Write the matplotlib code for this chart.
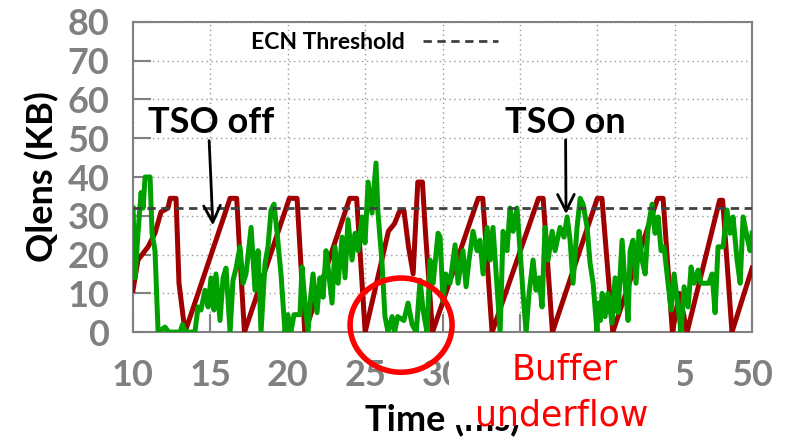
import matplotlib
matplotlib.use("Agg")
import matplotlib.pyplot as plt
from matplotlib.patches import Ellipse, Rectangle
from matplotlib.lines import Line2D

plt.rcParams['font.family'] = ['Lato', 'DejaVu Sans']

# queue length, TSO off (red sawtooth)
t_off = [10.0, 10.32, 10.97, 11.42, 11.81, 12.26, 12.4, 12.78, 12.97, 13.36,
         16.27, 16.7, 16.9, 17.2,
         20.1, 20.6, 21.1,
         24.0, 24.45, 25.0,
         26.1, 26.5, 26.9, 27.2, 27.5, 27.8, 28.1, 28.4, 28.7, 28.9, 29.35,
         32.3, 32.6, 33.2,
         36.2, 36.5, 37.1,
         40.0, 40.3, 41.0,
         43.9, 44.25, 44.85, 45.3, 45.8,
         47.9, 48.1, 48.7, 50.0]
q_off = [10.8, 18.6, 22, 25.5, 31, 32, 34.5, 34.5, 12.6, 0,
         34.5, 34.5, 20, 0,
         34.5, 34.5, 0,
         34.5, 34.5, 0,
         19, 26, 28, 31, 31.5, 22, 15, 38.7, 38.7, 25.5, 0,
         34.5, 34.5, 0,
         34.5, 34.5, 0,
         34.5, 34.5, 0,
         34.5, 34.5, 0, 10, 0,
         34, 34, 0, 16.5]

# queue length, TSO on (green)
t_on = [10.0, 10.13, 10.32, 10.52, 10.65, 10.78, 11.1, 11.23, 11.42, 11.62,
        12.07, 12.3, 13.04, 13.2, 13.4, 14.0, 14.2, 14.39, 14.65, 14.85,
        15.04, 15.23, 15.36, 15.62, 15.82, 16.01, 16.27, 16.46, 16.66, 16.91,
        17.11, 17.3, 17.63, 17.88, 18.08, 18.27, 18.53, 18.72, 18.92, 19.11,
        19.31, 19.56, 19.82, 20.0, 20.2, 20.4, 20.79, 20.92, 21.11, 21.31,
        21.44, 21.63, 21.89, 22.08, 22.28, 22.47, 22.6, 22.86, 23.05, 23.25,
        23.51, 23.7, 23.89, 24.15, 24.35, 24.54, 24.8, 24.99, 25.19, 25.44,
        25.7, 25.83, 26.09, 26.28, 26.48, 26.74, 26.9, 27.1, 27.5, 27.77,
        28.03, 28.3, 28.55, 28.74, 29.0, 29.19, 29.39, 29.71, 29.84, 30.03,
        30.2, 30.48, 30.81, 31.0, 31.32, 31.52, 31.71, 31.97, 32.23, 32.42,
        32.62, 32.88, 33.07, 33.26, 33.72, 33.91, 34.17, 34.36, 34.56, 34.81,
        35.01, 35.2, 35.4, 35.59, 35.85, 36.04, 36.24, 36.43, 36.62, 36.82,
        37.08, 37.27, 37.59, 37.85, 38.05, 38.24, 38.43, 38.69, 38.89, 39.08,
        39.34, 39.53, 39.73, 39.98, 40.05, 40.2, 40.31, 40.5, 40.69, 40.95,
        41.15, 41.34, 41.6, 41.79, 41.99, 42.12, 42.31, 42.5, 42.7, 42.89,
        43.09, 43.28, 43.54, 43.73, 43.93, 44.12, 44.31, 44.57, 44.77, 44.96,
        45.22, 45.41, 45.61, 45.87, 46.06, 46.25, 46.51, 46.7, 47.2, 47.42,
        47.61, 47.8, 48.13, 48.38, 48.58, 48.77, 49.03, 49.23, 49.42, 49.68,
        49.87, 50.0]
q_on = [32, 14, 25.5, 36, 32, 40, 40, 25.5, 21, 0,
        1.3, 0, 0, 2, 0, 0, 6.5, 5.7, 10.8, 6.5,
        14, 5.7, 15, 3, 14, 16.5, 0, 13.4, 16.5, 22,
        12.6, 15, 27, 10.8, 21, 0, 17.8, 22, 31.5, 33,
        25.5, 15, 0, 4.5, 0, 4.5, 4.5, 16.8, 7.5, 0,
        7.5, 15, 5, 14, 9, 21, 16.8, 7.5, 22, 12.6,
        24.5, 14, 29, 18.6, 25.5, 21, 29.7, 23, 38.7, 30.7,
        43.6, 30.7, 17.8, 4, 0, 4, 0, 4, 3, 7.5,
        2, 0, 13.4, 5.7, 0, 18.6, 12.6, 25.5, 24.5, 8,
        15, 12.6, 22.5, 12.6, 21, 11.7, 18.6, 26, 21, 23.7,
        15, 27, 18.6, 27, 0, 26, 21, 32, 26, 32,
        21, 10, 0, 10, 18.6, 10.8, 14, 6.5, 27, 18.6,
        26, 21, 27, 24.5, 29.7, 23.7, 12.6, 27, 34.5, 33,
        27, 17.8, 12.6, 0, 7.5, 3, 10, 4, 10, 2.3,
        14, 5, 23.7, 12.6, 3, 21, 23.7, 12.6, 26, 18.6,
        15, 27, 33, 25.5, 29.7, 21, 22, 12.6, 5.7, 15,
        6.5, 0, 11.7, 6.5, 16.8, 12.6, 16, 12.6, 12.6, 15,
        5, 22, 22, 31.5, 25.5, 29.7, 18.6, 12.6, 29.7, 24.5,
        21, 25.5]

ecn_threshold = 32
xticks = [10, 15, 20, 25, 30, 35, 40, 45, 50]
yticks = [0, 10, 20, 30, 40, 50, 60, 70, 80]

gray = '#808080'

fig = plt.figure(figsize=(7.89, 4.47), dpi=100)
ax = fig.add_axes([0.1686, 0.257, 0.7846, 0.694])

ax.plot(t_off, q_off, color='#a00000', lw=3.6, zorder=3)
ax.plot(t_on, q_on, color='#00a000', lw=3.6, zorder=4)
ax.axhline(ecn_threshold, color='#404040', lw=2, ls=(0, (3, 2)), zorder=5)

ax.set_xlim(10, 50)
ax.set_ylim(0, 80)
ax.set_xticks(xticks)
ax.set_yticks(yticks)
ax.grid(True, color='#999999', ls=(0, (1, 2.5)), lw=1)
for s in ax.spines.values():
    s.set_color(gray)
    s.set_linewidth(1.5)
ax.tick_params(direction='in', length=13, width=1.5, color=gray,
               labelcolor=gray, labelsize=26, top=False, right=False)
ax.tick_params(axis='x', pad=19)
ax.tick_params(axis='y', pad=17)
for lab in ax.get_xticklabels() + ax.get_yticklabels():
    lab.set_fontweight('bold')

ax.set_ylabel('Qlens (KB)', fontsize=26, fontweight='bold', labelpad=6)
ax.set_xlabel('Time (ms)', fontsize=26, fontweight='bold', labelpad=8)

ax.legend(handles=[Line2D([], [], color='#404040', lw=2, ls=(0, (3, 2)))],
          labels=['ECN Threshold'], loc='center right',
          bbox_to_anchor=(0.59, 0.932), frameon=False, markerfirst=False,
          handlelength=3.3, borderpad=0, borderaxespad=0,
          prop={'size': 16.5, 'weight': 'bold'})

ax.annotate('', xy=(15.17, 26.8), xytext=(14.91, 50.1),
            arrowprops=dict(arrowstyle='->', color='black', lw=2,
                            mutation_scale=30), zorder=6)
ax.text(15.04, 51.4, 'TSO off', fontsize=26, fontweight='bold', ha='center',
        va='baseline')
ax.annotate('', xy=(37.98, 29.7), xytext=(37.95, 50.3),
            arrowprops=dict(arrowstyle='->', color='black', lw=2,
                            mutation_scale=30), zorder=6)
ax.text(37.92, 51.4, 'TSO on', fontsize=26, fontweight='bold', ha='center',
        va='baseline')

ax.add_patch(Ellipse((27.32, 1.8), 6.59, 24.3, fill=False, edgecolor='#ff0000',
                     lw=4, clip_on=False, zorder=7))

# white label box over the axis labels
fig.add_artist(Rectangle((449 / 789, 22 / 447), (678 - 449) / 789, 70 / 447,
                         transform=fig.transFigure, facecolor='white',
                         edgecolor='none', zorder=3))
fig.text(565 / 789, (447 - 380) / 447, 'Buffer', color='#ff0000', fontsize=25,
         family='DejaVu Sans', ha='center', va='baseline', zorder=4)
fig.text(562 / 789, (447 - 425) / 447, 'underflow', color='#ff0000', fontsize=25,
         family='DejaVu Sans', ha='center', va='baseline', zorder=4)

fig.savefig('out.png', dpi=100)
